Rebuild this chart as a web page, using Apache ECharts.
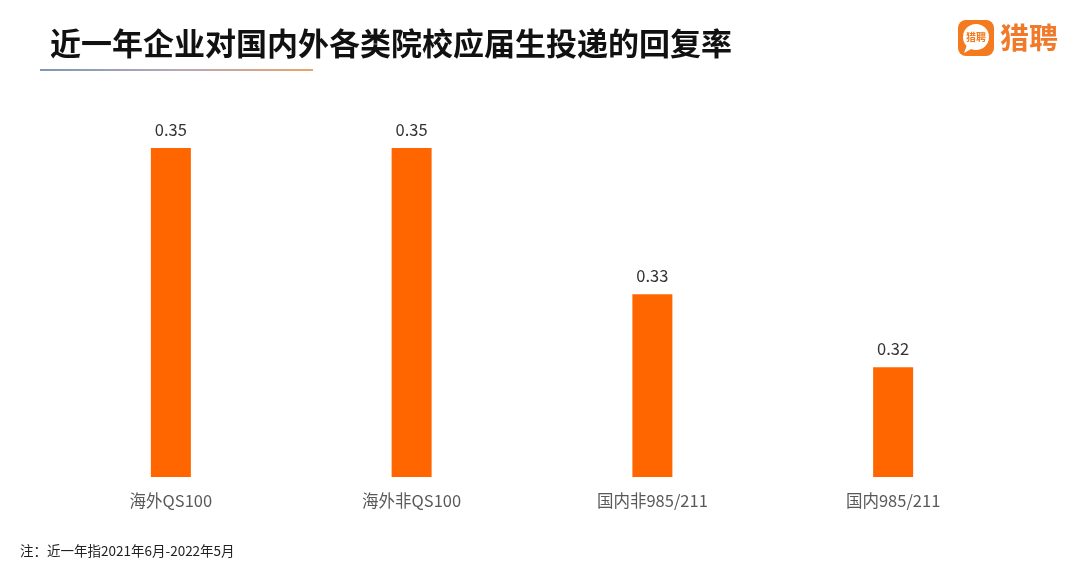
<!DOCTYPE html>
<html><head><meta charset="utf-8">
<script src="https://cdn.jsdelivr.net/npm/echarts@6/dist/echarts.min.js"></script>
<style>html,body{margin:0;padding:0;background:#fff}#c{width:1080px;height:569px}</style>
</head><body><div id="c"></div>
<script>
var categories = ['海外QS100', '海外非QS100', '国内非985/211', '国内985/211'];
var values = [0.35, 0.35, 0.33, 0.32];
var titleText = '近一年企业对国内外各类院校应届生投递的回复率';
var noteText = '注：近一年指2021年6月-2022年5月';
var font = '"Noto Sans CJK SC", "Noto Sans", sans-serif';
var chart = echarts.init(document.getElementById('c'));
chart.setOption({
  backgroundColor: '#fff',
  animation: false,
  title: {
    text: titleText, left: 45, top: 23,
    textStyle: {fontFamily: font, fontSize: 31, fontWeight: 'bold', color: '#111'}
  },
  grid: {left: 50.5, right: 66.5, top: 75, bottom: 92},
  xAxis: {
    type: 'category', data: categories,
    axisLine: {show: false}, axisTick: {show: false},
    axisLabel: {color: '#595959', fontSize: 16.5, fontFamily: font, margin: 15}
  },
  yAxis: {type: 'value', min: 0.305, max: 0.36, show: false, splitLine: {show: false}},
  series: [{
    type: 'bar', data: values, barWidth: 40,
    itemStyle: {color: '#FF6600'},
    label: {show: true, position: 'top', distance: 10, color: '#333', fontSize: 16.5, fontFamily: font,
      formatter: function(p){ return p.value.toFixed(2); }}
  }],
  graphic: [
    {type: 'rect', shape: {x: 40, y: 69, width: 273, height: 2},
      style: {fill: new echarts.graphic.LinearGradient(0, 0, 1, 0, [
        {offset: 0, color: '#7c98b4'}, {offset: 0.5, color: '#b8a8b8'}, {offset: 1, color: '#eba36a'}])}},
    {type: 'rect', shape: {x: 958, y: 20, width: 36, height: 36, r: 8}, style: {fill: '#F47A20'}},
    {type: 'circle', shape: {cx: 976, cy: 37, r: 13}, style: {fill: '#fff'}},
    {type: 'polygon', shape: {points: [[967, 45], [964, 53], [973, 48]]}, style: {fill: '#fff'}},
    {type: 'text', style: {x: 976, y: 37, text: '猎聘', fontSize: 10, fontWeight: 'bold', fontFamily: font,
      fill: '#F47A20', align: 'center', verticalAlign: 'middle'}},
    {type: 'text', style: {x: 1000, y: 38, text: '猎聘', fontSize: 29, fontWeight: 'bold', fontFamily: font,
      fill: '#F07A2A', verticalAlign: 'middle'}},
    {type: 'text', style: {x: 20, y: 551, text: noteText, fontSize: 13.5, fontFamily: font,
      fill: '#222', verticalAlign: 'middle'}}
  ]
});
</script></body></html>
